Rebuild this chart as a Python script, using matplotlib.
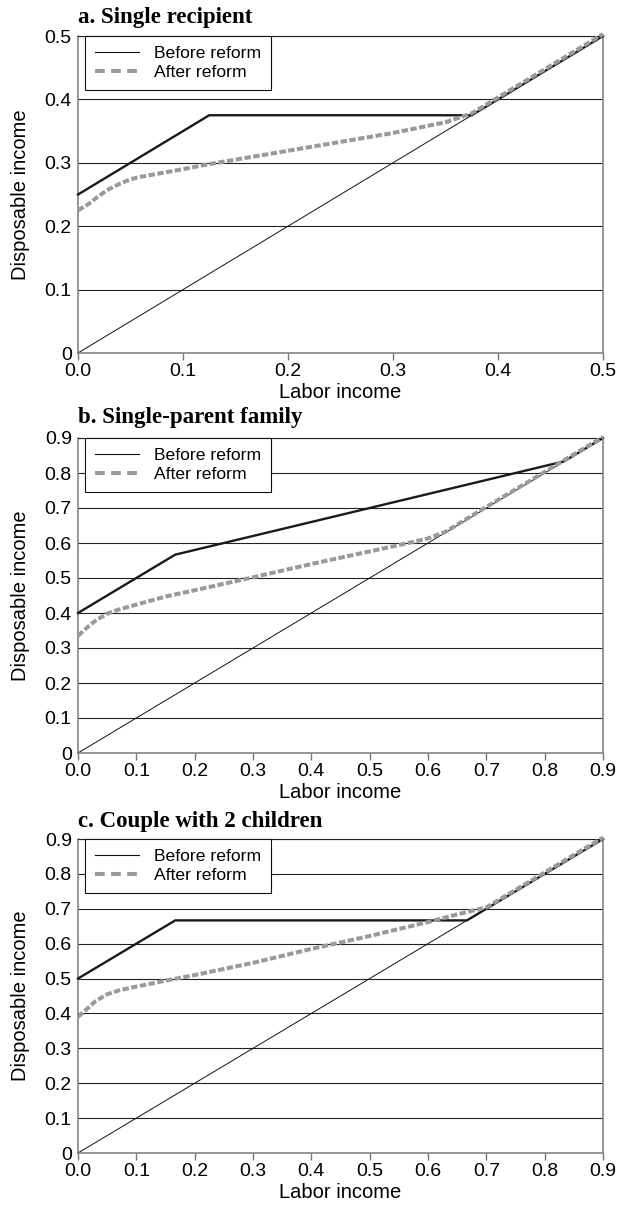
import matplotlib
matplotlib.use("Agg")
import matplotlib.pyplot as plt
from matplotlib.lines import Line2D
from matplotlib.ticker import FixedLocator, FixedFormatter

plt.rcParams['font.family'] = ['Liberation Sans', 'DejaVu Sans']

# ---- data -------------------------------------------------------------
titles = ["a. Single recipient", "b. Single-parent family", "c. Couple with 2 children"]
x_max = [0.5, 0.9, 0.9]

# Before reform: benefit schedule (kink points)
before_x_a = [0.0, 0.125, 0.375, 0.5]
before_y_a = [0.25, 0.375, 0.375, 0.5]
before_x_b = [0.0, 1/6, 5/6, 0.9]
before_y_b = [0.40, 0.5667, 0.8333, 0.9]
before_x_c = [0.0, 1/6, 2/3, 0.9]
before_y_c = [0.50, 0.6667, 0.6667, 0.9]

# After reform schedule
after_x_a = [0.0, 0.01, 0.02, 0.03, 0.04, 0.05, 0.06, 0.08, 0.10, 0.125, 0.15, 0.20,
             0.25, 0.30, 0.35, 0.375, 0.40, 0.45, 0.50]
after_y_a = [0.225, 0.235, 0.248, 0.259, 0.267, 0.274, 0.278, 0.284, 0.290, 0.298, 0.305,
             0.319, 0.333, 0.347, 0.364, 0.378, 0.403, 0.453, 0.503]
after_x_b = [0.0, 0.01, 0.02, 0.03, 0.05, 0.07, 0.10, 0.15, 0.20, 0.30, 0.40, 0.50,
             0.55, 0.60, 0.63, 0.70, 0.80, 0.90]
after_y_b = [0.335, 0.350, 0.365, 0.378, 0.398, 0.410, 0.424, 0.447, 0.465, 0.502, 0.540,
             0.576, 0.594, 0.613, 0.632, 0.703, 0.803, 0.903]
after_x_c = [0.0, 0.01, 0.02, 0.03, 0.05, 0.07, 0.10, 0.15, 0.20, 0.30, 0.40, 0.50,
             0.55, 0.60, 0.65, 0.70, 0.80, 0.90]
after_y_c = [0.390, 0.405, 0.420, 0.435, 0.455, 0.466, 0.477, 0.494, 0.510, 0.545, 0.585,
             0.622, 0.642, 0.662, 0.684, 0.704, 0.804, 0.904]

x_ticks_a = [0.0, 0.1, 0.2, 0.3, 0.4, 0.5]
x_ticks_bc = [0.0, 0.1, 0.2, 0.3, 0.4, 0.5, 0.6, 0.7, 0.8, 0.9]
x_labels_a = ["0.0", "0.1", "0.2", "0.3", "0.4", "0.5"]
x_labels_bc = ["0.0", "0.1", "0.2", "0.3", "0.4", "0.5", "0.6", "0.7", "0.8", "0.9"]
y_labels_a = ["0", "0.1", "0.2", "0.3", "0.4", "0.5"]
y_labels_bc = ["0", "0.1", "0.2", "0.3", "0.4", "0.5", "0.6", "0.7", "0.8", "0.9"]

panels = [
    (before_x_a, before_y_a, after_x_a, after_y_a, x_ticks_a, x_labels_a, y_labels_a),
    (before_x_b, before_y_b, after_x_b, after_y_b, x_ticks_bc, x_labels_bc, y_labels_bc),
    (before_x_c, before_y_c, after_x_c, after_y_c, x_ticks_bc, x_labels_bc, y_labels_bc),
]

# ---- layout -----------------------------------------------------------
W, H = 621, 1205
fig = plt.figure(figsize=(W / 100, H / 100), dpi=100)
boxes = [(78, 603, 36, 353), (78, 603, 438, 753), (78, 603, 839, 1153)]
title_y = [18, 418, 821]

GRID = "#222222"
SPINE = "#7a7a7a"
AFTER = "#9a9a9a"

for i, (bx, by, ax_x, ax_y, xt, xl, yl) in enumerate(panels):
    l, r, t, b = boxes[i]
    ax = fig.add_axes([l / W, 1 - b / H, (r - l) / W, (b - t) / H])
    xm = x_max[i]
    ax.set_xlim(0, xm)
    ax.set_ylim(0, xm)

    yt = xt
    for v in yt[1:]:
        ax.axhline(v, color=GRID, lw=0.8, zorder=1)

    # 45-degree line
    ax.plot([0, xm], [0, xm], color="#111111", lw=0.7, zorder=2, clip_on=False)
    # before reform schedule
    ax.plot(bx, by, color="#1a1a1a", lw=1.7, zorder=3, clip_on=False,
            solid_joinstyle="miter")
    # after reform schedule
    ax.plot(ax_x, ax_y, color=AFTER, lw=2.9, dashes=(1.6, 0.6), zorder=4,
            clip_on=False)

    ax.xaxis.set_major_locator(FixedLocator(xt))
    ax.xaxis.set_major_formatter(FixedFormatter(xl))
    ax.yaxis.set_major_locator(FixedLocator(yt))
    ax.yaxis.set_major_formatter(FixedFormatter(yl))
    ax.tick_params(axis="x", length=5, width=1, color=SPINE, pad=2.5, labelsize=14)
    ax.tick_params(axis="y", length=0, pad=4.5, labelsize=14)

    for side in ["left", "right", "bottom"]:
        ax.spines[side].set_color(SPINE)
        ax.spines[side].set_linewidth(1.1)
    ax.spines["top"].set_color(GRID)
    ax.spines["top"].set_linewidth(0.8)

    ax.set_xlabel("Labor income", fontsize=14.5)
    ax.xaxis.label.set_va("center")
    ax.xaxis.set_label_coords(0.5, -39 / (b - t))
    ax.set_ylabel("Disposable income", fontsize=14.5)
    ax.yaxis.label.set_va("center")
    ax.yaxis.set_label_coords(-57 / (r - l), 0.5)

    handles = [
        Line2D([], [], color="#111111", lw=0.8),
        Line2D([], [], color=AFTER, lw=2.9, dashes=(2.4, 1.6)),
    ]
    leg = ax.legend(handles, ["Before reform", "After reform"], loc="upper left",
                    bbox_to_anchor=(0.013, 1.0), borderaxespad=0, fancybox=False,
                    framealpha=1, edgecolor="#111111", fontsize=12.6,
                    handlelength=2.5, handletextpad=0.85, labelspacing=0.2,
                    borderpad=0.58)
    leg.get_frame().set_linewidth(0.8)
    leg.set_zorder(10)

    fig.text(l / W, 1 - title_y[i] / H, titles[i], fontsize=16.5, fontweight="bold",
             family=["Liberation Serif", "DejaVu Serif"], ha="left", va="center")

fig.savefig("out.png", dpi=100)
